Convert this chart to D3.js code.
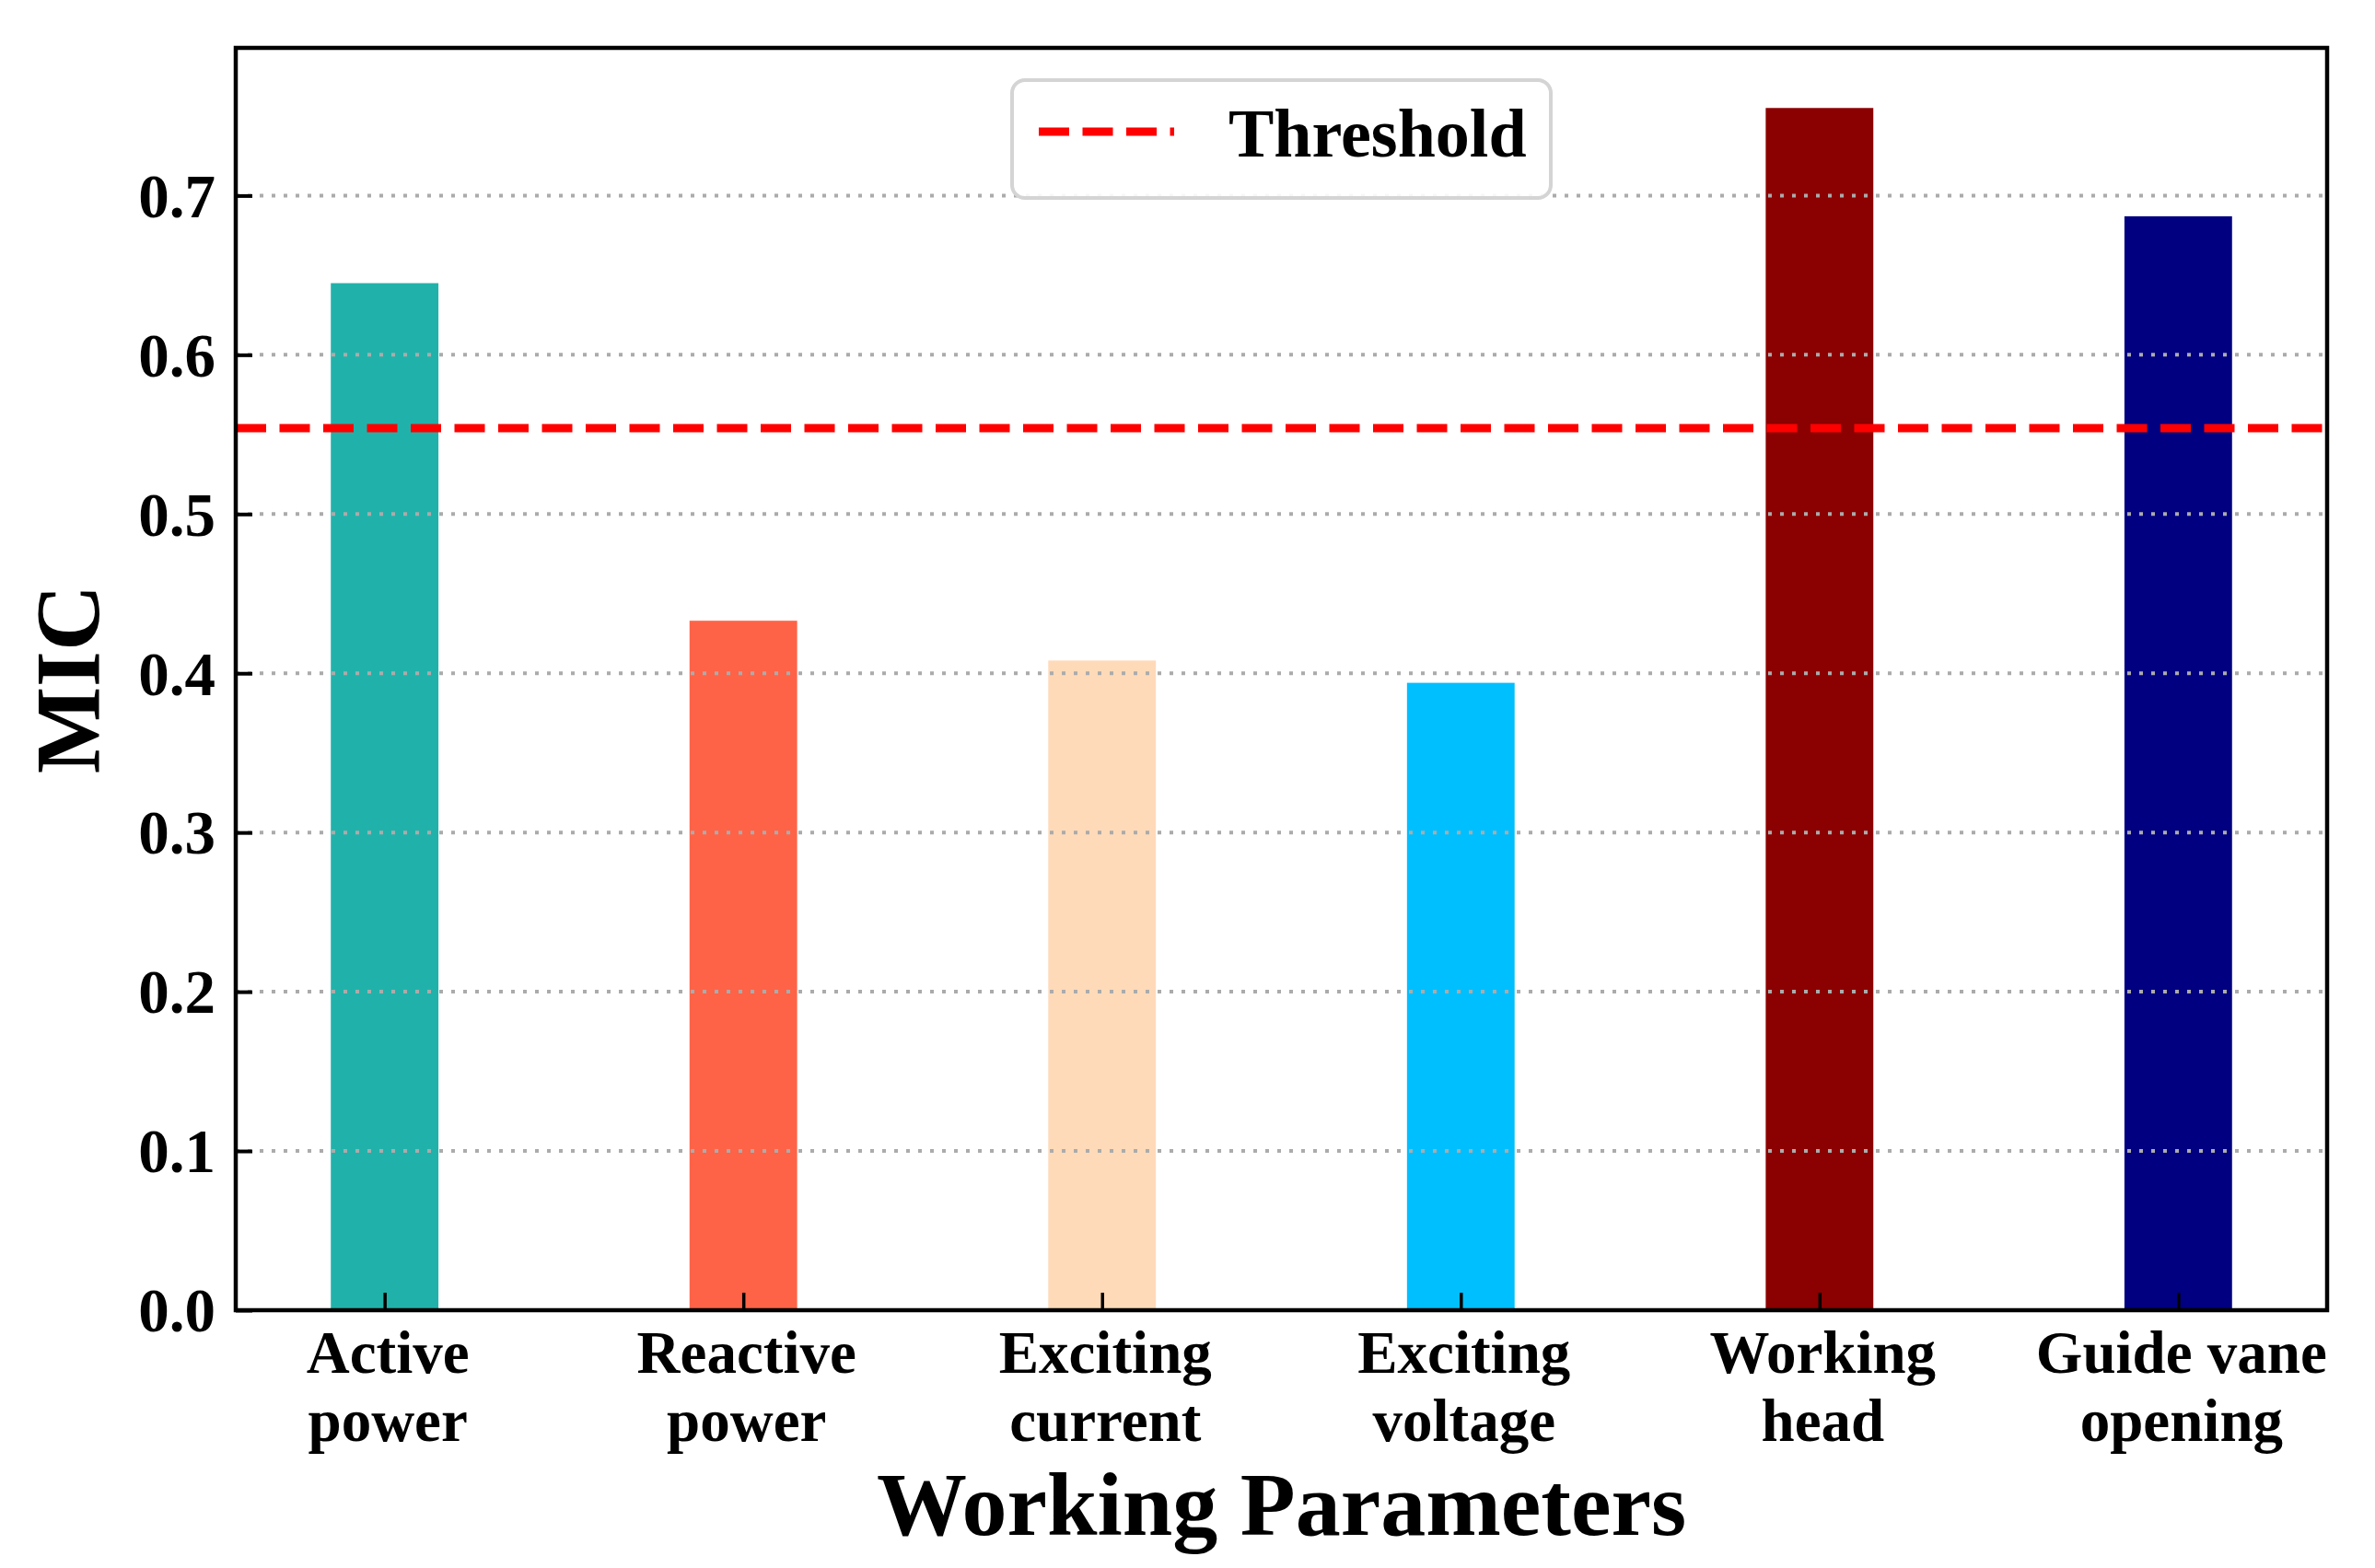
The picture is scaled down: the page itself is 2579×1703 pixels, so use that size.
<!DOCTYPE html>
<html>
<head>
<meta charset="utf-8">
<script src="https://cdn.jsdelivr.net/npm/d3@7"></script>
<style>
  body { margin: 0; background: #fff; }
  text { font-family: "Liberation Serif", "Times New Roman", serif; font-weight: bold; }
</style>
</head>
<body>
<script>
let categories = ["Active power", "Reactive power", "Exciting current", "Exciting voltage", "Working head", "Guide vane opening"];
let tickLines = [["Active", "power"], ["Reactive", "power"], ["Exciting", "current"], ["Exciting", "voltage"], ["Working", "head"], ["Guide vane", "opening"]];
let micValues = [0.645, 0.433, 0.408, 0.394, 0.755, 0.687];
let barColors = ["#20B2AA", "#FF6347", "#FFDAB9", "#00BFFF", "#8B0000", "#000080"];
let threshold = 0.554;
let yTicks = [0.0, 0.1, 0.2, 0.3, 0.4, 0.5, 0.6, 0.7];

let width = 2579, height = 1703;
let margin = {left: 256, right: 52, top: 52, bottom: 280};
let plotRight = width - margin.right;
let plotBottom = height - margin.bottom;

let svg = d3.select("body").append("svg")
    .attr("width", width)
    .attr("height", height);

let barW = 0.3;
let x = d3.scaleLinear()
    .domain([-barW / 2 - 0.265, categories.length - 1 + barW / 2 + 0.265])
    .range([margin.left, plotRight]);

let y = d3.scaleLinear()
    .domain([0, d3.max(micValues) * 1.05])
    .range([plotBottom, margin.top]);

// bars
svg.append("g").selectAll("rect")
    .data(micValues)
    .enter()
    .append("rect")
    .attr("x", (d, i) => x(i - barW / 2))
    .attr("y", d => y(d))
    .attr("width", x(barW) - x(0))
    .attr("height", d => y(0) - y(d))
    .attr("fill", (d, i) => barColors[i]);

// dotted grid on top of bars
svg.append("g").selectAll("line")
    .data(yTicks.slice(1))
    .enter()
    .append("line")
    .attr("x1", margin.left)
    .attr("x2", plotRight)
    .attr("y1", d => y(d))
    .attr("y2", d => y(d))
    .attr("stroke", "#ababab")
    .attr("stroke-width", 4)
    .attr("stroke-dasharray", "4,9");

// threshold line
svg.append("line")
    .attr("x1", margin.left)
    .attr("x2", plotRight)
    .attr("y1", y(threshold))
    .attr("y2", y(threshold))
    .attr("stroke", "#ff0000")
    .attr("stroke-width", 9)
    .attr("stroke-dasharray", "33,14.5");

// y axis, ticks inward
let yAxis = svg.append("g")
    .attr("transform", `translate(${margin.left},0)`)
    .call(d3.axisLeft(y).tickValues(yTicks).tickFormat(d3.format(".1f")).tickSize(-18).tickPadding(22));
yAxis.select(".domain").remove();
yAxis.selectAll("line").attr("stroke", "#000").attr("stroke-width", 4);
yAxis.selectAll("text")
    .attr("font-size", 67)
    .attr("fill", "#000")
    .attr("dy", "0.34em");

// x axis, ticks inward, two-line labels (one text per line)
let xAxis = svg.append("g")
    .attr("transform", `translate(0,${plotBottom})`)
    .call(d3.axisBottom(x).tickValues(d3.range(categories.length)).tickSize(-19).tickFormat(""));
xAxis.select(".domain").remove();
xAxis.selectAll("line").attr("stroke", "#000").attr("stroke-width", 3.5);
xAxis.selectAll(".tick text").remove();
xAxis.selectAll(".tick").each(function(d) {
    let tick = d3.select(this);
    tickLines[d].forEach((line, k) => {
        tick.append("text")
            .attr("fill", "#000")
            .attr("font-size", 65)
            .attr("text-anchor", "middle")
            .attr("x", 3)
            .attr("y", 68 + k * 74)
            .text(line);
    });
});

// frame
svg.append("rect")
    .attr("x", margin.left)
    .attr("y", margin.top)
    .attr("width", plotRight - margin.left)
    .attr("height", plotBottom - margin.top)
    .attr("fill", "none")
    .attr("stroke", "#000")
    .attr("stroke-width", 4.5);

// axis titles
svg.append("text")
    .attr("transform", `translate(107,${(margin.top + plotBottom) / 2}) rotate(-90)`)
    .attr("text-anchor", "middle")
    .attr("font-size", 100)
    .text("MIC");

svg.append("text")
    .attr("x", (margin.left + plotRight) / 2)
    .attr("y", 1667)
    .attr("text-anchor", "middle")
    .attr("font-size", 98)
    .text("Working Parameters");

// legend
let legend = svg.append("g").attr("transform", "translate(1099,87)");
legend.append("rect")
    .attr("width", 585)
    .attr("height", 128)
    .attr("rx", 14)
    .attr("fill", "#fff")
    .attr("fill-opacity", 0.9)
    .attr("stroke", "#d4d4d4")
    .attr("stroke-width", 4);
legend.append("line")
    .attr("x1", 29).attr("x2", 176)
    .attr("y1", 56).attr("y2", 56)
    .attr("stroke", "#ff0000")
    .attr("stroke-width", 9)
    .attr("stroke-dasharray", "33,14.5");
legend.append("text")
    .attr("x", 235)
    .attr("y", 83)
    .attr("font-size", 74)
    .text("Threshold");
</script>
</body>
</html>
